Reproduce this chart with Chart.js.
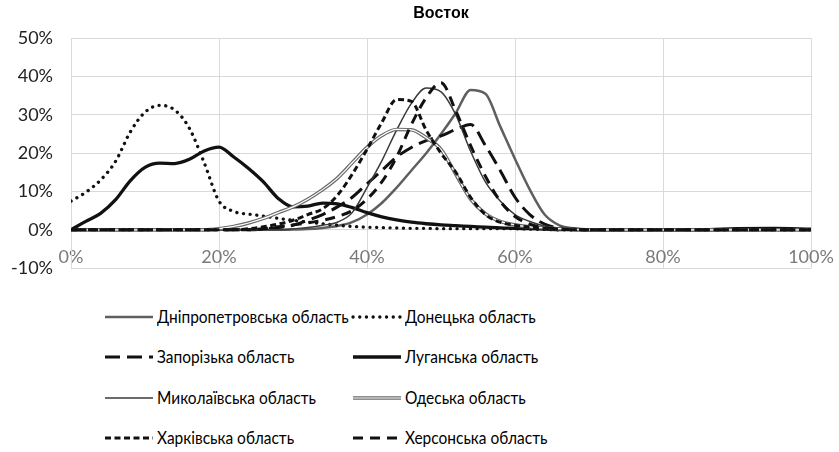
<!DOCTYPE html>
<html>
<head>
<meta charset="utf-8">
<script src="https://cdn.jsdelivr.net/npm/chart.js@4.4.1/dist/chart.umd.min.js"></script>
<style>
  html, body { margin: 0; padding: 0; background: #fff; }
  #wrap { position: relative; width: 839px; height: 452px; overflow: hidden; background: #fff; }
  #c { position: absolute; left: 0; top: 0; }
  .lg { position: absolute; font-family: Lato, "Open Sans", sans-serif; font-size: 17px; color: #000; white-space: nowrap; line-height: 20px; }
  .lg svg { position: absolute; left: 0; top: 0; overflow: visible; }
  .lg span { position: absolute; top: 0; transform: scaleX(0.91); transform-origin: 0 50%; }
</style>
</head>
<body>
<div id="wrap">
  <canvas id="c" width="839" height="297"></canvas>
  <div id="legend"></div>
</div>
<script>
// ---- data (percent) ----
const title = "Восток";
const xValues = [0,2,4,6,8,10,12,14,16,18,20,22,24,26,28,30,32,34,36,38,40,42,44,46,48,50,52,54,56,58,60,62,64,66,68,70,75,80,85,90,95,100];
const seriesNames = ["Дніпропетровська область","Донецька область","Запорізька область","Луганська область","Миколаївська область","Одеська область","Харківська область","Херсонська область"];
const dnipro =   [0,0,0,0,0,0,0,0,0,0,0,0,0,0,0, 0.1,0.2,0.5,1,2,4,7,11,15.5,20,25,30.5,36.5,35.5,27,18.5,10.5,4,1.2,0.4,0.1, 0,0,0,0,0,0];
const donetsk =  [7.5,9.8,13,17.8,25.5,30.7,32.5,31.3,26.5,17.5,7.5,4.8,4.1,3.6,3.0,2.5,2.0,1.6,1.2,0.9,0.7,0.6,0.5,0.4,0.4,0.3,0.3,0.3,0.3,0.3,0.3,0.2,0.1,0,0,0, 0,0,0,0,0,0];
const zapor =    [0,0,0,0,0,0,0,0,0,0,0,0,0, 0.2,0.6,1.2,2.5,4,6,8.5,12,15.5,19,21.5,23.3,24.5,26.2,27.5,22,15.5,8.5,4,1.5,0.5,0.2,0, 0,0,0,0,0,0];
const luhansk =  [0,2.2,4.3,7.8,12.8,16.3,17.4,17.3,18.4,20.6,21.6,19,16,12.5,8.2,6.0,6.2,7.0,6.8,5.8,4.5,3.4,2.6,2.0,1.6,1.3,1.1,0.9,0.7,0.5,0.4,0.3,0.2,0.1,0.1,0, 0,0,0,0.3,0.4,0.2];
const mykolaiv = [0,0,0,0,0,0,0,0,0,0,0,0,0,0,0, 0.3,0.6,1.2,2,4.5,11,18,26,33,37,36,30,20.5,12.5,7.5,4,2.2,1,0.4,0.1,0, 0,0,0,0,0,0];
const odesa =    [0,0,0,0,0,0,0,0,0,0, 0.3,0.9,1.8,3,4.5,6,8,10.5,13.5,17.5,21.5,24.6,26.2,26.1,24,21,14.5,8,4.2,2.2,1.3,0.8,0.5,0.3,0.1,0, 0,0,0,0,0,0];
const kharkiv =  [0,0,0,0,0,0,0,0,0,0,0,0, 0.3,0.8,1.5,2.5,4,5.5,9,14.5,21,28,34,33.5,26,20,15,8.5,4,2,1.2,0.7,0.4,0.2,0,0, 0,0,0,0,0,0];
const kherson =  [0,0,0,0,0,0,0,0,0,0,0,0,0, 0.3,0.8,1.3,1.8,2.5,3.5,5,8,12.5,19,27.5,34.5,38.4,31,22,14,7.5,3.5,1.5,0.6,0.2,0,0, 0,0,0,0,0,0];
const yTicks = [-10,0,10,20,30,40,50];
const xTicks = [0,20,40,60,80,100];

const seriesValues = [dnipro, donetsk, zapor, luhansk, mykolaiv, odesa, kharkiv, kherson];
const styles = [
  { color: "#5f5f5f", width: 2.5, dash: [] },
  { color: "#111111", width: 3.3, dash: [0.1, 6.6], cap: "round" },
  { color: "#111111", width: 3, dash: [15, 7] },
  { color: "#111111", width: 3.3, dash: [] },
  { color: "#3a3a3a", width: 1.5, dash: [] },
  { color: "#6a6a6a", width: 3.6, dash: [], double: true },
  { color: "#111111", width: 3, dash: [6, 3.5] },
  { color: "#111111", width: 3, dash: [10, 7] }
];

function pts(arr) { return arr.map((v, i) => ({ x: xValues[i], y: v })); }

const datasets = [];
seriesValues.forEach((arr, i) => {
  const s = styles[i];
  datasets.push({
    label: seriesNames[i],
    data: pts(arr),
    borderColor: s.color,
    borderWidth: s.width,
    borderDash: s.dash,
    borderCapStyle: s.cap || "butt",
    borderJoinStyle: "round",
    pointRadius: 0,
    fill: false,
    cubicInterpolationMode: "monotone",
    order: 10 - i
  });
  if (s.double) {
    datasets.push({
      label: seriesNames[i] + " (inner)",
      data: pts(arr),
      borderColor: "#ffffff",
      borderWidth: 1.2,
      pointRadius: 0,
      fill: false,
      cubicInterpolationMode: "monotone",
      order: 10 - i - 0.5
    });
  }
});

const tickFont = { family: "Lato, 'Open Sans', sans-serif", size: 18 };

new Chart(document.getElementById("c"), {
  type: "line",
  data: { datasets },
  options: {
    responsive: false,
    animation: false,
    devicePixelRatio: 1,
    layout: { padding: { left: 0, right: 28, top: 0, bottom: 22 } },
    plugins: {
      legend: { display: false },
      tooltip: { enabled: false },
      title: {
        display: true,
        text: title,
        fullSize: false,
        color: "#000",
        font: { family: "'Liberation Sans', Arial, sans-serif", size: 16, weight: "bold" },
        padding: { top: 4, bottom: 15 }
      }
    },
    scales: {
      x: {
        type: "linear",
        min: 0, max: 100,
        position: { y: 0 },
        afterBuildTicks: (sc) => { sc.ticks = xTicks.map(v => ({ value: v })); },
        afterFit: (sc) => { sc.height = 0; sc.paddingLeft = 0; sc.paddingRight = 0; },
        ticks: { callback: v => v + "%", color: "#7a7a7a", font: tickFont, padding: 17, maxRotation: 0, autoSkip: false },
        grid: { color: "#d9d9d9", lineWidth: 1, drawTicks: false },
        border: { color: "#d9d9d9" }
      },
      y: {
        type: "linear",
        min: -10, max: 50,
        afterBuildTicks: (sc) => { sc.ticks = yTicks.map(v => ({ value: v })); },
        afterFit: (sc) => { sc.width = 71; },
        ticks: { callback: v => v + "%", color: "#222", font: tickFont, padding: 18 },
        grid: { color: "#d9d9d9", lineWidth: 1, drawTicks: false },
        border: { color: "#d9d9d9" }
      }
    }
  }
});

// ---- HTML legend (two columns) ----
const legendPos = [
  { x: 105, y: 307 }, { x: 353, y: 307 },
  { x: 105, y: 347 }, { x: 353, y: 347 },
  { x: 105, y: 388 }, { x: 353, y: 388 },
  { x: 105, y: 428 }, { x: 353, y: 428 }
];
const legendEl = document.getElementById("legend");
seriesNames.forEach((name, i) => {
  const s = styles[i];
  const p = legendPos[i];
  const item = document.createElement("div");
  item.className = "lg";
  item.style.left = p.x + "px";
  item.style.top = p.y + "px";
  item.style.width = "300px";
  item.style.height = "20px";
  const lw = 48;
  const dash = s.dash.length ? s.dash.join(",") : "none";
  let svg = '<svg width="' + lw + '" height="20">';
  svg += '<line x1="0" y1="10" x2="' + lw + '" y2="10" stroke="' + s.color + '" stroke-width="' + s.width + '" stroke-dasharray="' + dash + '" stroke-linecap="' + (s.cap || "butt") + '"/>';
  if (s.double) svg += '<line x1="0" y1="10" x2="' + lw + '" y2="10" stroke="#fff" stroke-width="1.2"/>';
  svg += '</svg>';
  item.innerHTML = svg + '<span style="left:' + (lw + 4) + 'px">' + name + '</span>';
  legendEl.appendChild(item);
});
</script>
</body>
</html>
